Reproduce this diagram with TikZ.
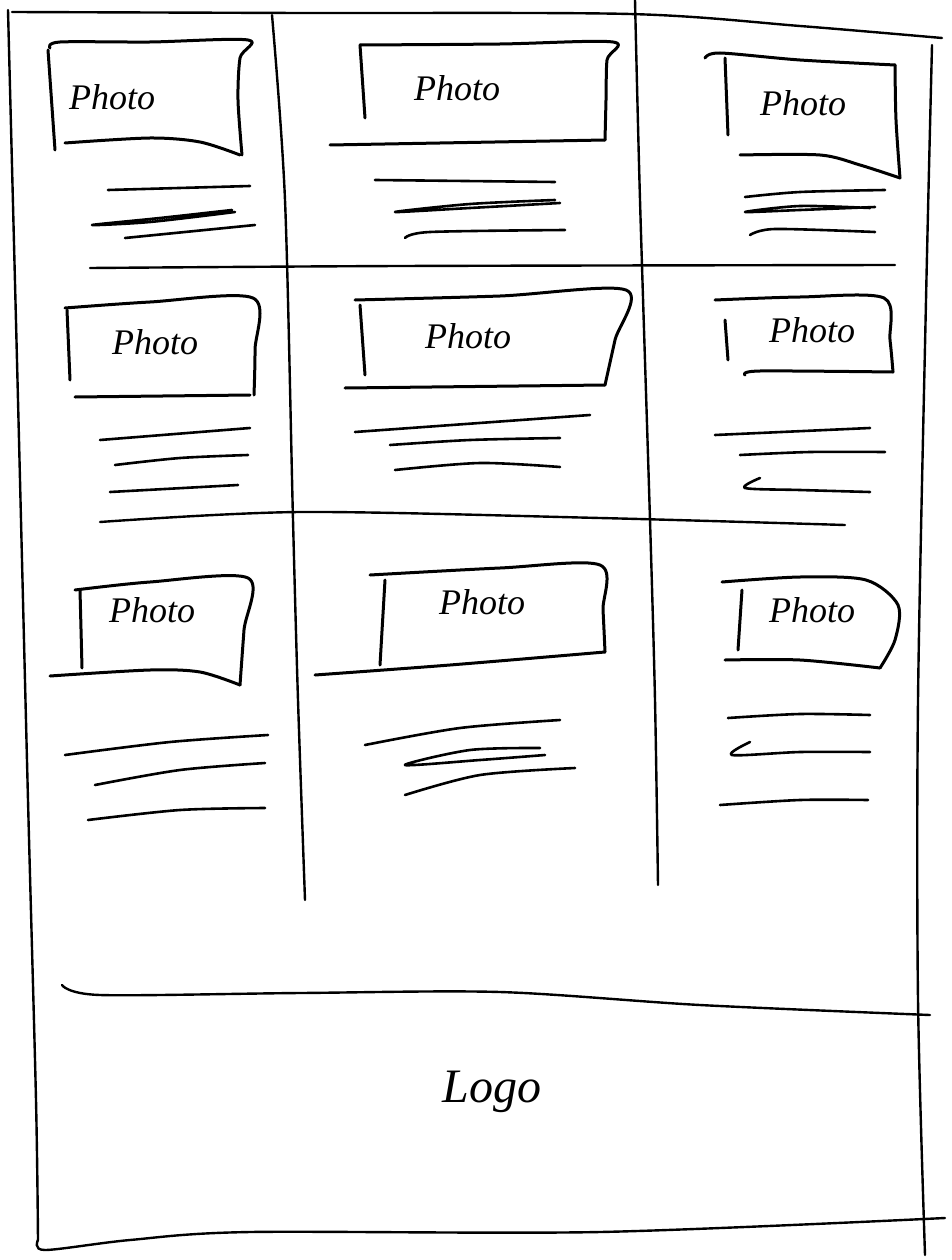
\documentclass[tikz,border=0pt]{standalone}
\usepackage{fontspec}
\setmainfont{Liberation Serif}
\begin{document}
\begin{tikzpicture}[x=1pt,y=-1pt,
  sk/.style={line width=2.4pt,line cap=round,line join=round},
  bx/.style={line width=3pt,line cap=round,line join=round},
  tl/.style={line width=2.6pt,line cap=round,line join=round},
  ph/.style={font=\fontsize{36}{40}\selectfont\itshape},
  lg/.style={font=\fontsize{48}{52}\selectfont\itshape}]
\useasboundingbox (0,0) rectangle (951,1260);
\fill[white] (0,0) rectangle (951,1260);
% outer frame
\draw[sk] plot[smooth] coordinates {(12,12) (300,13) (630,14) (800,26) (942,38)};
\draw[sk] plot[smooth] coordinates {(8,10) (18,400) (28,800) (36,1100) (38,1240)};
\draw[sk] plot[smooth] coordinates {(38,1240) (45,1250) (130,1240) (250,1232) (600,1232) (945,1218)};
\draw[sk] plot[smooth] coordinates {(932,45) (926,300) (918,700) (918,1000) (925,1255)};
% footer divider
\draw[sk] plot[smooth] coordinates {(62,985) (100,995) (300,993) (500,992) (700,1005) (930,1015)};
% column dividers
\draw[sk] plot[smooth] coordinates {(272,15) (285,200) (293,520) (298,700) (305,900)};
\draw[sk] plot[smooth] coordinates {(635,0) (640,200) (650,520) (655,700) (658,885)};
% row dividers
\draw[sk] plot[smooth] coordinates {(90,268) (400,266) (895,265)};
\draw[sk] plot[smooth] coordinates {(100,522) (300,512) (600,518) (845,525)};

% ---------- row 1 ----------
% c1
\draw[bx] plot[smooth] coordinates {(50,48) (60,42) (150,42) (248,40) (240,58) (238,100) (242,155)};
\draw[bx] (48,50) -- (55,150);
\draw[bx] plot[smooth] coordinates {(65,143) (150,138) (200,142) (240,155)};
\node[ph] (p11) at (112,97) {Photo};
\draw[tl] (108,190) -- (250,186);
\draw[tl] plot[smooth] coordinates {(232,210) (160,218) (92,225) (150,222) (235,212)};
\draw[tl] (125,238) -- (255,225);
% c2
\draw[bx] plot[smooth] coordinates {(360,45) (500,44) (613,42) (607,60) (606,100) (605,140)};
\draw[bx] (360,45) -- (365,118);
\draw[bx] (330,145) -- (605,140);
\node[ph] (p12) at (457,88) {Photo};
\draw[tl] (375,180) -- (555,182);
\draw[tl] plot[smooth] coordinates {(555,200) (470,204) (395,212) (470,208) (560,203)};
\draw[tl] plot[smooth] coordinates {(405,238) (430,232) (565,230)};
% c3
\draw[bx] plot[smooth] coordinates {(705,58) (720,53) (800,60) (895,65)};
\draw[bx] (725,58) -- (728,135);
\draw[bx] plot[smooth] coordinates {(895,65) (896,120) (900,178)};
\draw[bx] plot[smooth] coordinates {(740,155) (820,155) (860,165) (900,178)};
\node[ph] (p13) at (803,103) {Photo};
\draw[tl] plot[smooth] coordinates {(745,197) (800,192) (885,190)};
\draw[tl] plot[smooth] coordinates {(870,208) (800,206) (745,212) (800,210) (875,207)};
\draw[tl] plot[smooth] coordinates {(750,235) (775,229) (875,232)};

% ---------- row 2 ----------
% c1
\draw[bx] plot[smooth] coordinates {(65,308) (150,302) (253,298) (255,350) (254,395)};
\draw[bx] (67,310) -- (70,380);
\draw[bx] (75,397) -- (250,395);
\node[ph] (p21) at (155,342) {Photo};
\draw[tl] (100,440) -- (250,428);
\draw[tl] plot[smooth] coordinates {(115,465) (180,458) (248,455)};
\draw[tl] (110,492) -- (238,485);
% c2
\draw[bx] plot[smooth] coordinates {(355,300) (500,296) (626,290) (615,340) (605,385)};
\draw[bx] (360,305) -- (365,375);
\draw[bx] (345,388) -- (605,385);
\node[ph] (p22) at (468,336) {Photo};
\draw[tl] (355,432) -- (590,415);
\draw[tl] plot[smooth] coordinates {(390,445) (470,440) (560,438)};
\draw[tl] plot[smooth] coordinates {(395,470) (480,463) (560,467)};
% c3
\draw[bx] plot[smooth] coordinates {(715,300) (800,297) (884,298) (890,340) (893,372)};
\draw[bx] (725,320) -- (728,360);
\draw[bx] plot[smooth] coordinates {(745,375) (760,371) (893,372)};
\node[ph] (p23) at (812,330) {Photo};
\draw[tl] (715,435) -- (870,428);
\draw[tl] plot[smooth] coordinates {(740,455) (810,452) (885,452)};
\draw[tl] plot[smooth] coordinates {(760,478) (745,488) (800,490) (870,492)};

% ---------- row 3 ----------
% c1
\draw[bx] plot[smooth] coordinates {(75,590) (150,582) (248,578) (244,630) (240,685)};
\draw[bx] (80,590) -- (82,668);
\draw[bx] plot[smooth] coordinates {(50,676) (150,670) (200,672) (240,685)};
\node[ph] (p31) at (152,610) {Photo};
\draw[tl] plot[smooth] coordinates {(65,755) (170,742) (268,735)};
\draw[tl] plot[smooth] coordinates {(95,785) (180,770) (265,763)};
\draw[tl] plot[smooth] coordinates {(88,820) (180,810) (265,808)};
% c2
\draw[bx] plot[smooth] coordinates {(370,575) (500,568) (600,565) (603,610) (605,652)};
\draw[bx] (385,580) -- (380,665);
\draw[bx] plot[smooth] coordinates {(315,675) (450,665) (605,652)};
\node[ph] (p32) at (482,602) {Photo};
\draw[tl] plot[smooth] coordinates {(365,745) (460,728) (560,720)};
\draw[tl] plot[smooth] coordinates {(540,748) (470,750) (405,765) (480,760) (545,755)};
\draw[tl] plot[smooth] coordinates {(405,795) (480,775) (575,768)};
% c3
\draw[bx] plot[smooth] coordinates {(722,582) (800,577) (866,580) (898,605) (895,640) (880,668)};
\draw[bx] (742,590) -- (738,650);
\draw[bx] plot[smooth] coordinates {(725,660) (800,660) (880,668)};
\node[ph] (p33) at (812,610) {Photo};
\draw[tl] plot[smooth] coordinates {(728,718) (800,714) (870,715)};
\draw[tl] plot[smooth] coordinates {(750,742) (732,755) (800,752) (870,752)};
\draw[tl] plot[smooth] coordinates {(720,805) (800,800) (868,800)};

% footer logo
\node[lg] (logo) at (492,1092) {Logo};
\end{tikzpicture}
\end{document}
